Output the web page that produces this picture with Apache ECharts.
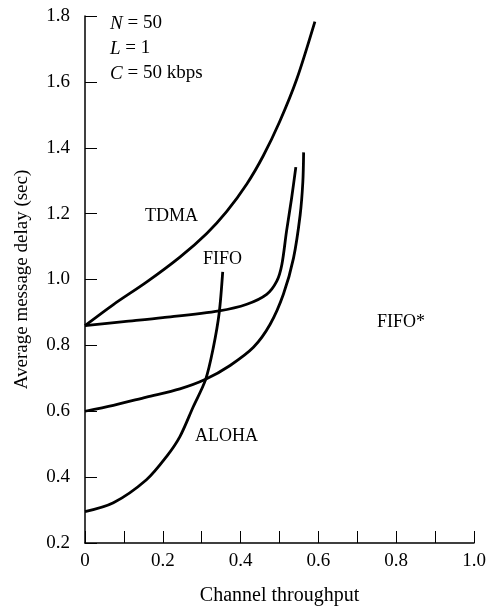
<!DOCTYPE html>
<html>
<head>
<meta charset="utf-8">
<script src="https://cdn.jsdelivr.net/npm/echarts@6/dist/echarts.min.js"></script>
<style>
  html, body { margin: 0; padding: 0; background: #fff; }
  #chart { width: 490px; height: 611px; }
</style>
</head>
<body>
<div id="chart"></div>
<script>
// 曲线数据 (throughput, delay)
const tdma = [[0, 0.86], [0.073, 0.924], [0.158, 0.992], [0.244, 1.068], [0.313, 1.140], [0.364, 1.206], [0.416, 1.290], [0.458, 1.375], [0.500, 1.478], [0.544, 1.607], [0.591, 1.783]]
const fifo = [[0, 0.86], [0.10, 0.872], [0.20, 0.884], [0.345, 0.905], [0.416, 0.925], [0.467, 0.955], [0.493, 0.995], [0.506, 1.045], [0.518, 1.146], [0.531, 1.246], [0.542, 1.341]]
const fifoStar = [[0, 0.6], [0.073, 0.618], [0.158, 0.643], [0.244, 0.668], [0.310, 0.697], [0.373, 0.739], [0.433, 0.794], [0.476, 0.864], [0.510, 0.955], [0.536, 1.065], [0.553, 1.195], [0.560, 1.296], [0.562, 1.386]]
const aloha = [[0, 0.295], [0.073, 0.322], [0.158, 0.392], [0.210, 0.463], [0.244, 0.523], [0.278, 0.613], [0.310, 0.696], [0.330, 0.794], [0.345, 0.899], [0.354, 1.023]]
const curveNames = ['TDMA', 'FIFO', 'FIFO*', 'ALOHA']
const paramLines = [['N', ' = 50'], ['L', ' = 1'], ['C', ' = 50 kbps']]

const serif = '"Liberation Serif", "DejaVu Serif", serif'
const chart = echarts.init(document.getElementById('chart'))

const lineSeries = [tdma, fifo, fifoStar, aloha].map((d, i) => ({
  name: curveNames[i],
  type: 'line',
  data: d,
  smooth: 0.3,
  showSymbol: false,
  lineStyle: { color: '#000', width: 2.8 },
  silent: true,
}))

// 曲线旁的文字
const curveText = (name, left, top) => ({
  type: 'text', left, top,
  style: { text: name, font: '18px ' + serif, fill: '#000' },
})

chart.setOption({
  animation: false,
  grid: { left: 85, right: 16, top: 16, bottom: 64 },
  xAxis: {
    type: 'value',
    min: 0,
    max: 1.0,
    interval: 0.1,
    name: 'Channel throughput',
    nameLocation: 'middle',
    nameGap: 43,
    nameTextStyle: { fontFamily: serif, fontSize: 20, color: '#000' },
    axisLine: { show: true, onZero: false, lineStyle: { color: '#000', width: 1.5 } },
    axisTick: { show: true, inside: true, length: 12, lineStyle: { color: '#000', width: 1 } },
    splitLine: { show: false },
    axisLabel: {
      fontFamily: serif,
      fontSize: 19,
      color: '#000',
      margin: 9,
      formatter: v => {
        const k = Math.round(v * 10)
        if (k % 2 !== 0) return ''
        return k === 0 ? '0' : v.toFixed(1)
      },
    },
  },
  yAxis: {
    type: 'value',
    min: 0.2,
    max: 1.8,
    interval: 0.2,
    name: 'Average message delay (sec)',
    nameLocation: 'middle',
    nameGap: 53,
    nameTextStyle: { fontFamily: serif, fontSize: 19, color: '#000' },
    axisLine: { show: true, onZero: false, lineStyle: { color: '#000', width: 1.5 } },
    axisTick: { show: true, inside: true, length: 12, lineStyle: { color: '#000', width: 1 } },
    splitLine: { show: false },
    axisLabel: {
      fontFamily: serif,
      fontSize: 19,
      color: '#000',
      margin: 15,
      formatter: v => v.toFixed(1),
    },
  },
  graphic: [
    ...paramLines.map((p, i) => ({
      type: 'text',
      left: 110,
      top: 14 + i * 25,
      style: {
        text: '{i|' + p[0] + '}{n|' + p[1] + '}',
        rich: {
          i: { fontFamily: serif, fontSize: 19, fontStyle: 'italic', fill: '#000' },
          n: { fontFamily: serif, fontSize: 19, fill: '#000' },
        },
      },
    })),
    curveText(curveNames[0], 145, 207),
    curveText(curveNames[1], 203, 250),
    curveText(curveNames[2], 377, 313),
    curveText(curveNames[3], 195, 427),
  ],
  series: lineSeries,
})
</script>
</body>
</html>
